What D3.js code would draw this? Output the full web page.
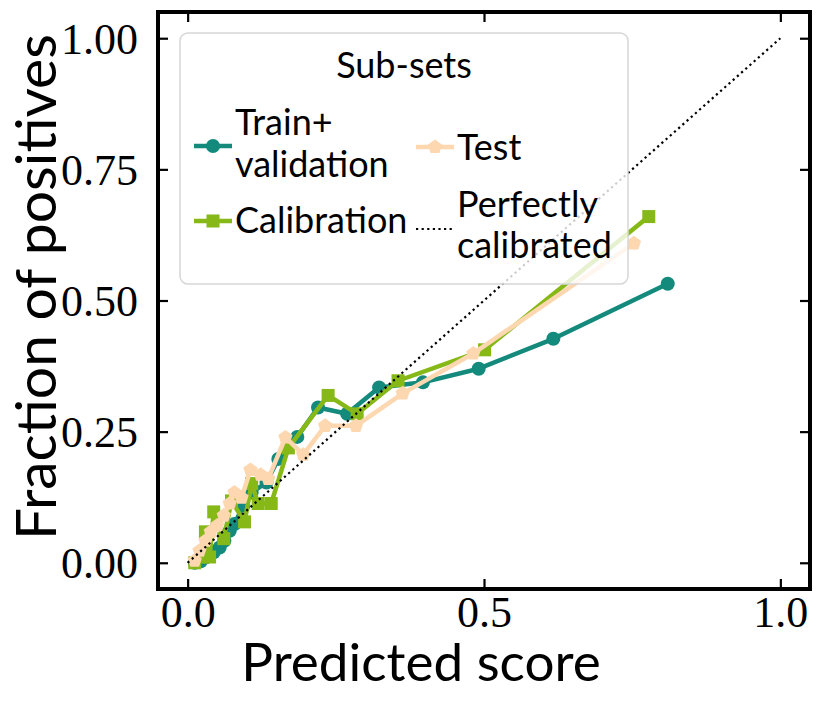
<!DOCTYPE html>
<html>
<head>
<meta charset="utf-8">
<script src="https://cdn.jsdelivr.net/npm/d3@7/dist/d3.min.js"></script>
<style>
  body { margin: 0; background: #fff; }
  .tick text { font-family: "Liberation Serif", serif; }
</style>
</head>
<body>
<div id="chart"></div>
<script>
// calibration curves (predicted score, fraction of positives)
const trainScore = [0.012, 0.022, 0.030, 0.044, 0.054, 0.062, 0.071, 0.079, 0.094, 0.108, 0.133, 0.153, 0.185, 0.220, 0.269, 0.323, 0.397, 0.491, 0.617, 0.810];
const trainFrac  = [0.000, 0.003, 0.010, 0.020, 0.029, 0.042, 0.061, 0.074, 0.109, 0.134, 0.153, 0.198, 0.240, 0.296, 0.284, 0.334, 0.344, 0.370, 0.427, 0.532];

const calibScore = [0.012, 0.024, 0.030, 0.037, 0.044, 0.061, 0.074, 0.096, 0.108, 0.119, 0.141, 0.170, 0.237, 0.286, 0.355, 0.501, 0.778];
const calibFrac  = [0.000, 0.011, 0.059, 0.011, 0.097, 0.046, 0.118, 0.078, 0.151, 0.113, 0.113, 0.219, 0.319, 0.284, 0.347, 0.406, 0.660];

const testScore = [0.012, 0.020, 0.030, 0.039, 0.050, 0.061, 0.071, 0.079, 0.091, 0.106, 0.123, 0.136, 0.165, 0.195, 0.232, 0.284, 0.363, 0.482, 0.753];
const testFrac  = [0.004, 0.023, 0.042, 0.059, 0.071, 0.090, 0.113, 0.134, 0.124, 0.177, 0.168, 0.160, 0.239, 0.206, 0.261, 0.261, 0.323, 0.399, 0.609];

const perfectScore = [0, 1];
const perfectFrac  = [0, 1];

const seriesNames  = ["Train+validation", "Calibration", "Test", "Perfectly calibrated"];
const seriesColors = ["#138a7c", "#86b817", "#fdd7b0", "#000"];

const xTicks = [0, 0.5, 1.0];
const yTicks = [0, 0.25, 0.5, 0.75, 1.0];

const W = 822, H = 705;
const frame = { left: 158, right: 810, top: 12, bottom: 589 };
const lw = 4.5;

const x = d3.scaleLinear().domain([-0.05, 1.05]).range([frame.left, frame.right]);
const y = d3.scaleLinear().domain([-0.05, 1.05]).range([frame.bottom, frame.top]);

const svg = d3.select('#chart').append('svg')
    .attr('width', W)
    .attr('height', H);

const toPts = (xs, ys) => xs.map((v, i) => [v, ys[i]]);
const line = d3.line().x(d => x(d[0])).y(d => y(d[1]));

function pentagon(r) {
  let p = '';
  for (let k = 0; k < 5; k++) {
    const a = -Math.PI / 2 + k * 2 * Math.PI / 5;
    p += (k ? 'L' : 'M') + (r * Math.cos(a)).toFixed(2) + ',' + (r * Math.sin(a)).toFixed(2);
  }
  return p + 'Z';
}

const plot = svg.append('g');

// train+validation: circles
plot.append('path')
    .attr('d', line(toPts(trainScore, trainFrac)))
    .attr('fill', 'none').attr('stroke', seriesColors[0])
    .attr('stroke-width', lw).attr('stroke-linejoin', 'round');
plot.selectAll('.dotTrain')
    .data(toPts(trainScore, trainFrac))
    .enter().append('circle')
    .attr('cx', d => x(d[0])).attr('cy', d => y(d[1]))
    .attr('r', 7).attr('fill', seriesColors[0]);

// calibration: squares
plot.append('path')
    .attr('d', line(toPts(calibScore, calibFrac)))
    .attr('fill', 'none').attr('stroke', seriesColors[1])
    .attr('stroke-width', lw).attr('stroke-linejoin', 'round');
plot.selectAll('.dotCalib')
    .data(toPts(calibScore, calibFrac))
    .enter().append('rect')
    .attr('x', d => x(d[0]) - 6.5).attr('y', d => y(d[1]) - 6.5)
    .attr('width', 13).attr('height', 13)
    .attr('fill', seriesColors[1]);

// test: pentagons
plot.append('path')
    .attr('d', line(toPts(testScore, testFrac)))
    .attr('fill', 'none').attr('stroke', seriesColors[2])
    .attr('stroke-width', lw).attr('stroke-linejoin', 'round');
plot.selectAll('.dotTest')
    .data(toPts(testScore, testFrac))
    .enter().append('path')
    .attr('transform', d => 'translate(' + x(d[0]) + ',' + y(d[1]) + ')')
    .attr('d', pentagon(7.5))
    .attr('fill', seriesColors[2]);

// perfectly calibrated
plot.append('path')
    .attr('d', line(toPts(perfectScore, perfectFrac)))
    .attr('fill', 'none').attr('stroke', '#000')
    .attr('stroke-width', 2.2)
    .attr('stroke-dasharray', '2.2,3.4');

// axes with inward ticks on all four sides
const xAxis = d3.axisBottom(x).tickValues(xTicks).tickFormat(d3.format('.1f'))
    .tickSizeInner(-10).tickSizeOuter(0).tickPadding(8);
const yAxis = d3.axisLeft(y).tickValues(yTicks).tickFormat(d3.format('.2f'))
    .tickSizeInner(-10).tickSizeOuter(0).tickPadding(20);

const gx = svg.append('g').attr('transform', 'translate(0,' + frame.bottom + ')').call(xAxis);
const gy = svg.append('g').attr('transform', 'translate(' + frame.left + ',0)').call(yAxis);
svg.append('g').attr('transform', 'translate(0,' + frame.top + ')')
    .call(d3.axisTop(x).tickValues(xTicks).tickFormat('').tickSizeInner(-10).tickSizeOuter(0));
svg.append('g').attr('transform', 'translate(' + frame.right + ',0)')
    .call(d3.axisRight(y).tickValues(yTicks).tickFormat('').tickSizeInner(-10).tickSizeOuter(0));

svg.selectAll('.domain').remove();
svg.selectAll('.tick line').attr('stroke', '#000').attr('stroke-width', 2.2);
gx.selectAll('.tick text').attr('font-size', 44).attr('fill', '#000').attr('dy', '0.68em');
gy.selectAll('.tick text').attr('font-size', 44).attr('fill', '#000').attr('dy', '0.34em');

svg.append('rect')
    .attr('x', frame.left).attr('y', frame.top)
    .attr('width', frame.right - frame.left).attr('height', frame.bottom - frame.top)
    .attr('fill', 'none').attr('stroke', '#000').attr('stroke-width', 4);

// axis labels
const labelFont = 'Lato, "Open Sans", sans-serif';
svg.append('text')
    .attr('x', 421).attr('y', 681)
    .attr('text-anchor', 'middle')
    .attr('font-family', labelFont).attr('font-size', 53)
    .text('Predicted score');
svg.append('text')
    .attr('transform', 'translate(56,287) rotate(-90)')
    .attr('text-anchor', 'middle')
    .attr('font-family', labelFont).attr('font-size', 57)
    .text('Fraction of positives');

// legend
const leg = svg.append('g');
leg.append('rect')
    .attr('x', 180).attr('y', 33).attr('width', 448).attr('height', 251)
    .attr('rx', 8).attr('fill', '#fff').attr('fill-opacity', 0.8)
    .attr('stroke', '#d6d6d6').attr('stroke-width', 1.5);
const legFont = 36;
leg.append('text').attr('x', 404).attr('y', 78).attr('text-anchor', 'middle')
    .attr('font-family', labelFont).attr('font-size', legFont).text('Sub-sets');

function handle(x0, yc, i) {
  const g = leg.append('g');
  g.append('line').attr('x1', x0).attr('x2', x0 + 38).attr('y1', yc).attr('y2', yc)
      .attr('stroke', seriesColors[i])
      .attr('stroke-width', i === 3 ? 2.2 : lw)
      .attr('stroke-dasharray', i === 3 ? '2.2,3.4' : null);
  const cx = x0 + 19;
  if (i === 0) g.append('circle').attr('cx', cx).attr('cy', yc).attr('r', 7).attr('fill', seriesColors[0]);
  if (i === 1) g.append('rect').attr('x', cx - 6.5).attr('y', yc - 6.5).attr('width', 13).attr('height', 13).attr('fill', seriesColors[1]);
  if (i === 2) g.append('path').attr('transform', 'translate(' + cx + ',' + yc + ')').attr('d', pentagon(7.5)).attr('fill', seriesColors[2]);
}
function label(x0, baselines, lines) {
  const t = leg.append('text').attr('font-family', labelFont).attr('font-size', legFont);
  lines.forEach((s, k) => t.append('tspan').attr('x', x0).attr('y', baselines[k]).text(s));
}

handle(194, 146, 0);
label(235, [135, 177], ['Train+', 'validation']);
handle(194, 221, 1);
label(235, [233], [seriesNames[1]]);
handle(416, 147, 2);
label(457, [160], [seriesNames[2]]);
handle(416, 229, 3);
label(457, [217, 258], ['Perfectly', 'calibrated']);
</script>
</body>
</html>
